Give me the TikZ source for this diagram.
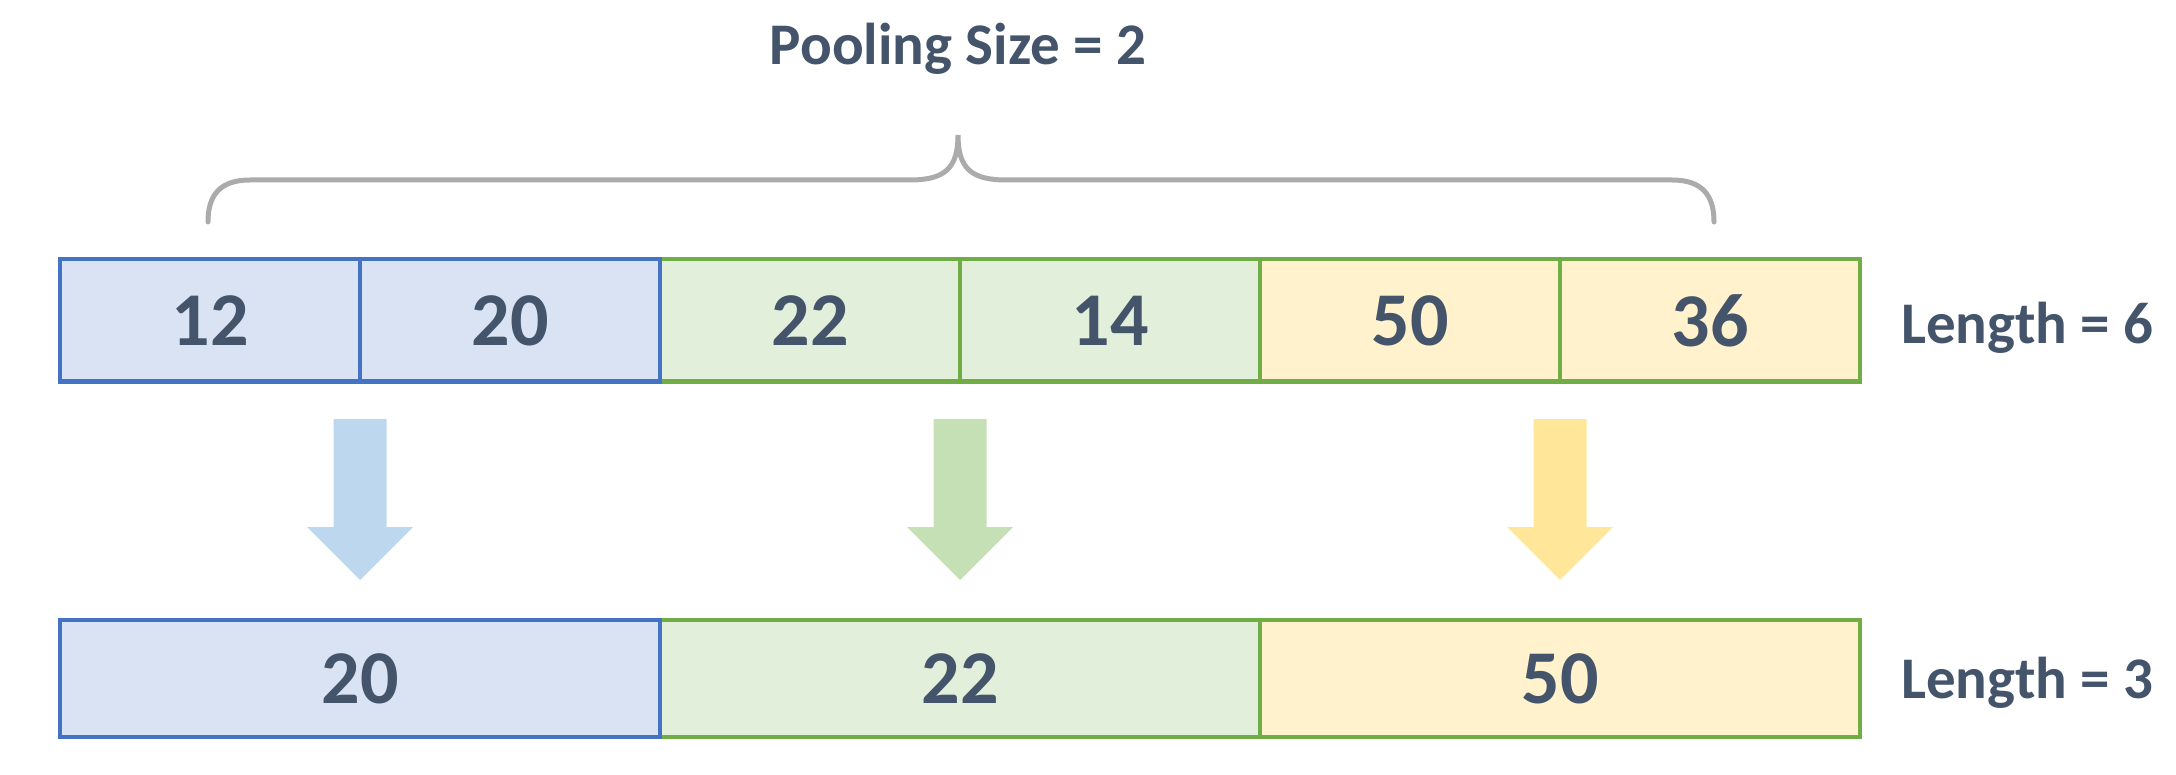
\documentclass[tikz,border=0pt]{standalone}
\usepackage{fontspec}
\setmainfont{Carlito}
\definecolor{txt}{HTML}{44546A}
\definecolor{bfill}{HTML}{DAE3F3}
\definecolor{bline}{HTML}{4472C4}
\definecolor{gfill}{HTML}{E2EFDA}
\definecolor{gline}{HTML}{70AD47}
\definecolor{yfill}{HTML}{FFF2CC}
\definecolor{barrow}{HTML}{BDD7EE}
\definecolor{garrow}{HTML}{C5E0B4}
\definecolor{yarrow}{HTML}{FFE699}
\definecolor{brace}{HTML}{ABABAB}
\begin{document}
\begin{tikzpicture}[x=1pt,y=-1pt,
  cell/.style={draw, line width=4pt, minimum width=300pt, minimum height=122pt, inner sep=0pt,
    text=txt, font=\fontsize{76}{84}\selectfont\bfseries, anchor=center},
  wcell/.style={cell, minimum width=600pt, minimum height=117pt},
  blu/.style={fill=bfill, draw=bline},
  grn/.style={fill=gfill, draw=gline},
  yel/.style={fill=yfill, draw=gline},
  lbl/.style={text=txt, font=\fontsize{59}{66}\selectfont\bfseries, inner sep=0pt},
  lenlbl/.style={lbl, anchor=west}]
\useasboundingbox (0,0) rectangle (2176,775);
% title
\node[lbl] (title) at (958,49) {Pooling Size = 2};
% brace
\draw[brace, line width=5pt, line cap=round]
  (208,222) .. controls (208,195) and (220,180) .. (250,180) -- (910,180)
  .. controls (945,180) and (958,168) .. (958,135)
  .. controls (958,168) and (971,180) .. (1006,180) -- (1672,180)
  .. controls (1702,180) and (1714,195) .. (1714,222);
% top row
\node[cell, grn] (c3) at (810,320.5) {22};
\node[cell, grn] (c4) at (1110,320.5) {14};
\node[cell, yel] (c5) at (1410,320.5) {50};
\node[cell, yel] (c6) at (1710,320.5) {36};
\node[cell, blu] (c1) at (210,320.5) {12};
\node[cell, blu] (c2) at (510,320.5) {20};
\node[lenlbl] (len6) at (1901,328) {Length = 6};
% arrows
\foreach \cx/\col/\nm in {360/barrow/aa, 960/garrow/ab, 1560/yarrow/ac}{
  \fill[\col] (\cx-26.5,419) -- (\cx+26.5,419) -- (\cx+26.5,527) -- (\cx+53,527)
    -- (\cx,580) -- (\cx-53,527) -- (\cx-26.5,527) -- cycle;
}
% bottom row
\node[wcell, grn] (d2) at (960,678.5) {22};
\node[wcell, yel] (d3) at (1560,678.5) {50};
\node[wcell, blu] (d1) at (360,678.5) {20};
\node[lenlbl] (len3) at (1901,683) {Length = 3};
\end{tikzpicture}
\end{document}
